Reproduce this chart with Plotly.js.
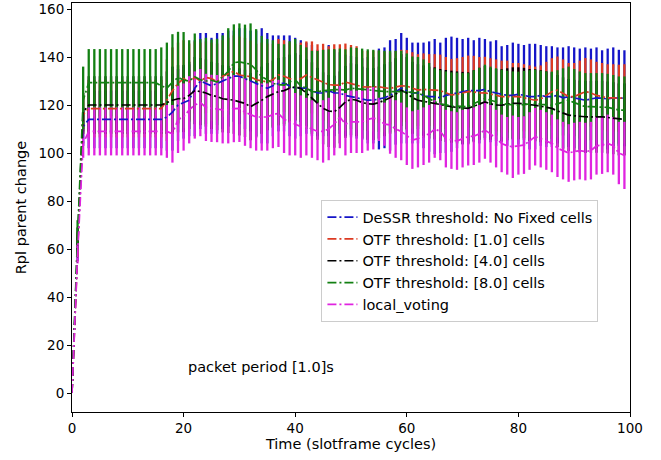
<!DOCTYPE html>
<html>
<head>
<meta charset="utf-8">
<script src="https://cdn.plot.ly/plotly-3.0.1.min.js"></script>
<style>
html, body { margin: 0; padding: 0; background: #fff; }
#chart { width: 661px; height: 460px; }
</style>
</head>
<body>
<div id="chart"></div>
<script>
// Time (slotframe cycles)
const time = Array.from({length: 100}, (_, i) => i);

const seriesNames = [
  "DeSSR threshold: No Fixed cells",
  "OTF threshold: [1.0] cells",
  "OTF threshold: [4.0] cells",
  "OTF threshold: [8.0] cells",
  "local_voting"
];
const seriesColors = ["#1515c8", "#dc3a22", "#000000", "#138013", "#e024e0"];

const dessrMean = [0,60,111,114,114,114,114,114,114,114,114,114,114,114,114,114,114,115,117,120,
  121,122,127,130,129,128,129,130,131,132,132,131,130,129,128,127,128,129,129,128,
  127,127,127,126,125,125,126,125,125,124,123.5,123,122.5,122,122,122.5,123,124,125.5,127,
  126,125,125,124,123.5,123.5,123,124,124.5,125,125.5,126,126,126,126.5,125.5,125,124.5,124,124,
  124.5,124,123.5,123.5,124,123.5,123.5,124,123,123.5,123,122.5,122,122.5,123,122.8,122.5,123,123,122.8];
const dessrErr = [0,5,8,12,12,12,12,12,12,12,12,12,12,12,12,12,12,14,16,15,
  15,15,20,20,21,20,21,20,20,19,20,21,21,22,24,23,21,20,20,21,
  21,20,19,19,18,18,19,18,17,17,17,17,17,18,18,21,21,23,22,23,
  22,21,21,22,23,24,23,24,24,23,22,22,21,22,21,21,22,20,21,22,
  21,21,22,22,21,21,21,20,21,21,21,21,22,21,21,20,21,21,20,20];

const otf1Mean = [0,62,116,118.5,118.5,118.5,118.5,118.5,118.5,118.5,118.5,118.5,118.5,118.5,118.5,118.5,118.5,122,126,129,
  131,129.6,131.5,130,131.5,131,129.6,132,133,134,132.5,132,131.8,130.5,130,129.6,130.5,132.5,132,131,
  130.5,131,132.5,131.5,130.3,129.5,128.5,128.3,128.3,129.6,129,128.5,127.6,127.5,127.6,127.6,127.2,126.9,127.5,128,
  127.9,127,126.2,126.5,126.2,126.2,126,125,124.2,124.5,125,125.6,125.5,125,125.1,124.5,124,123.5,123.5,123.5,
  123.5,123,122.5,122,122.5,124,125.5,126.2,125,123.5,123.5,124.5,125.6,125,124,123.5,123,123,122.8,123];
const otf1Err = [0,5,8,12,12,12,12,12,12,12,12,12,12,12,12,12,12,17,18,17,
  16,16,15,16,15,15,16,15,15,15,16,16,15,15,16,16,15,15,15,15,
  15,15,14,15,15,16,16,17,17,16,16,16,15,15,15,15,15,15,15,15,
  15,15,15,15,15,15,15,15,15,15,15,15,15,15,15,15,15,15,15,14,
  14,14,14,14,14,14,14,14,14,14,14,14,14,14,14,14,14,14,14,14];

const otf4Mean = [0,64,117,120,120,120,120,120,120,120,120,120,120,120,120,120,120,121,122,122.6,
  122.7,124,126,125.6,125,124,123.5,122.6,122.3,122,121.3,120.7,119.3,120.5,122,123.5,124.5,125.6,126,127,
  127.6,126.9,125,122.8,120.5,118.6,117.5,117.2,119,121.3,122.4,122,121,120.5,120.4,121,122,123,124.5,126.2,
  125,123,122,121.5,121,120.7,120,119.6,119.3,119,118.8,118.6,119.5,120.5,121.3,120.5,120,119.9,120.3,120.7,
  120.7,120.5,120,119.9,119.5,119,118.6,117.5,116.5,115.8,115.5,115.2,115.1,115,115.1,115.1,114.8,114.5,114,114];
const otf4Err = [0,5,8,12,12,12,12,12,12,12,12,12,12,12,12,12,12,13,14,14,
  14,14,14,14,14,14,14,14,14,14,14,14,14,14,14,14,14,14,14,14,
  14,14,14,15,15,15,15,15,15,15,15,15,15,15,15,15,15,15,15,15,
  15,15,15,15,15,15,15,15,15,15,15,15,15,15,15,15,15,15,15,15,
  15,15,15,15,15,15,15,15,15,15,15,15,15,15,15,15,15,15,15,15];

const otf8Mean = [0,66,122,129.3,129.3,129.3,129.3,129.3,129.3,129.3,129.3,129.3,129.3,129.3,129.3,129.3,128,127,129.5,131.5,
  130.4,130,131.8,130.5,130,130.3,129.6,132,134,137.6,138,137.5,137,134.6,131.8,130.5,129,128.5,128.3,129.6,
  130.5,128,127,125.6,125.5,126,126.2,126.3,126.5,126.2,127,126.8,126.5,126.2,126,125.8,125.6,125.6,125.6,125.6,
  125.5,125.2,125,124,122.5,121.3,120.5,120,119.6,119.5,119.3,119.3,120.5,121.5,122.8,122,121.3,120.7,120.3,120,
  119.9,120.2,120.5,120.7,120.3,120,119.9,120.5,121.3,122,121,120,119.3,119.3,119.3,119.3,119,118.5,117.9,117.9];
const otf8Err = [0,6,14,14,14,14,14,14,14,14,14,14,14,14,14,14,16,19,20,19,
  20,17,18,17,18,17,18,17,18,16,16,16,17,17,17,17,18,17,17,17,
  17,17,17,17,17,17,17,17,17,17,17,17,17,17,17,17,17,17,17,17,
  16,15,15,15,15,14,14,14,14,14,14,14,14,14,14,14,14,14,14,14,
  14,14,14,14,14,14,14,14,14,14,14,14,14,14,14,14,14,14,14,14];

const votingMean = [0,58,104,109,109,109,109,109,109,109,109,109,109,109,109,109,109,109,108,114,
  115,118,120,121,119,118.6,118.5,118,118,118.5,118.6,117,116,115,115,115,116,116.5,114,113,
  112,111,111,110,109,109,110,112,115,112,113,113,113,114,114.5,114,112,111.7,110,109,
  107,105.4,106,107,108,110,109,106,105.4,105,106,106.8,107,108,109.6,108,106,104,103,102.6,
  103,103.3,105,106.8,106,105,104,102,101,100,100.6,101,100.6,101,103,103.3,104,103,100,99];
const votingErr = [0,4,6,10,10,10,10,10,10,10,10,10,10,10,10,10,10,11,12,14,
  14,14,14,14,14,14,14,14,14,14,14,14,14,14,14,14,14,14,14,14,
  13,13,12,12,12,13,13,13,13,13,13,13,13,13,13,9,9,12,12,12,
  12,12,12,12,12,12,12,12,12,12,12,12,12,12,12,12,12,12,12,13,
  12,12,12,12,12,12,12,12,12,12,12,12,12,12,12,12,12,12,13,14];

const means = [dessrMean, otf1Mean, otf4Mean, otf8Mean, votingMean];
const errs = [dessrErr, otf1Err, otf4Err, otf8Err, votingErr];

const traces = [];
// error bars first (drawn beneath all lines, as in the reference)
for (let i = 0; i < 5; i++) {
  traces.push({
    x: time, y: means[i], type: 'scatter', mode: 'markers',
    marker: {size: 1, color: 'rgba(0,0,0,0)'},
    showlegend: false, hoverinfo: 'skip',
    error_y: {type: 'data', array: errs[i], visible: true, thickness: 2.3, width: 0, color: seriesColors[i]}
  });
}
for (let i = 0; i < 5; i++) {
  traces.push({
    x: time, y: means[i], type: 'scatter', mode: 'lines', name: seriesNames[i],
    line: {color: seriesColors[i], width: 1.7, dash: '9px,3px,2px,3px'}
  });
}

const font = {family: 'DejaVu Sans, sans-serif', size: 14.5, color: '#000'};
const tickFont = {family: 'DejaVu Sans, sans-serif', size: 13.5, color: '#000'};
const layout = {
  width: 661, height: 460,
  margin: {l: 72, r: 31, t: 3, b: 48},
  paper_bgcolor: '#fff', plot_bgcolor: '#fff',
  font: font,
  showlegend: true,
  legend: {
    x: 0.447, y: 0.518, xanchor: 'left', yanchor: 'top',
    bgcolor: 'rgba(255,255,255,0.85)', bordercolor: '#cccccc', borderwidth: 1,
    itemwidth: 30,
    font: {family: 'DejaVu Sans, sans-serif', size: 14.5, color: '#000'}
  },
  xaxis: {
    range: [0, 100], tickvals: [0, 20, 40, 60, 80, 100], ticks: 'outside', ticklen: 4, tickcolor: '#000',
    tickfont: tickFont,
    showline: true, linecolor: '#000', linewidth: 1, mirror: true, showgrid: false, zeroline: false,
    title: {text: 'Time (slotframe cycles)', font: font, standoff: 3}
  },
  yaxis: {
    range: [-7.9, 162.5], tickvals: [0, 20, 40, 60, 80, 100, 120, 140, 160], ticks: 'outside', ticklen: 4, tickcolor: '#000',
    tickfont: tickFont,
    showline: true, linecolor: '#000', linewidth: 1, mirror: true, showgrid: false, zeroline: false,
    title: {text: 'Rpl parent change', font: font, standoff: 8}
  },
  annotations: [{
    x: 20.5, y: 11, xref: 'x', yref: 'y', xanchor: 'left', yanchor: 'middle',
    text: 'packet period [1.0]s', showarrow: false, font: font
  }]
};

Plotly.newPlot('chart', traces, layout, {displayModeBar: false, staticPlot: true});
</script>
</body>
</html>
